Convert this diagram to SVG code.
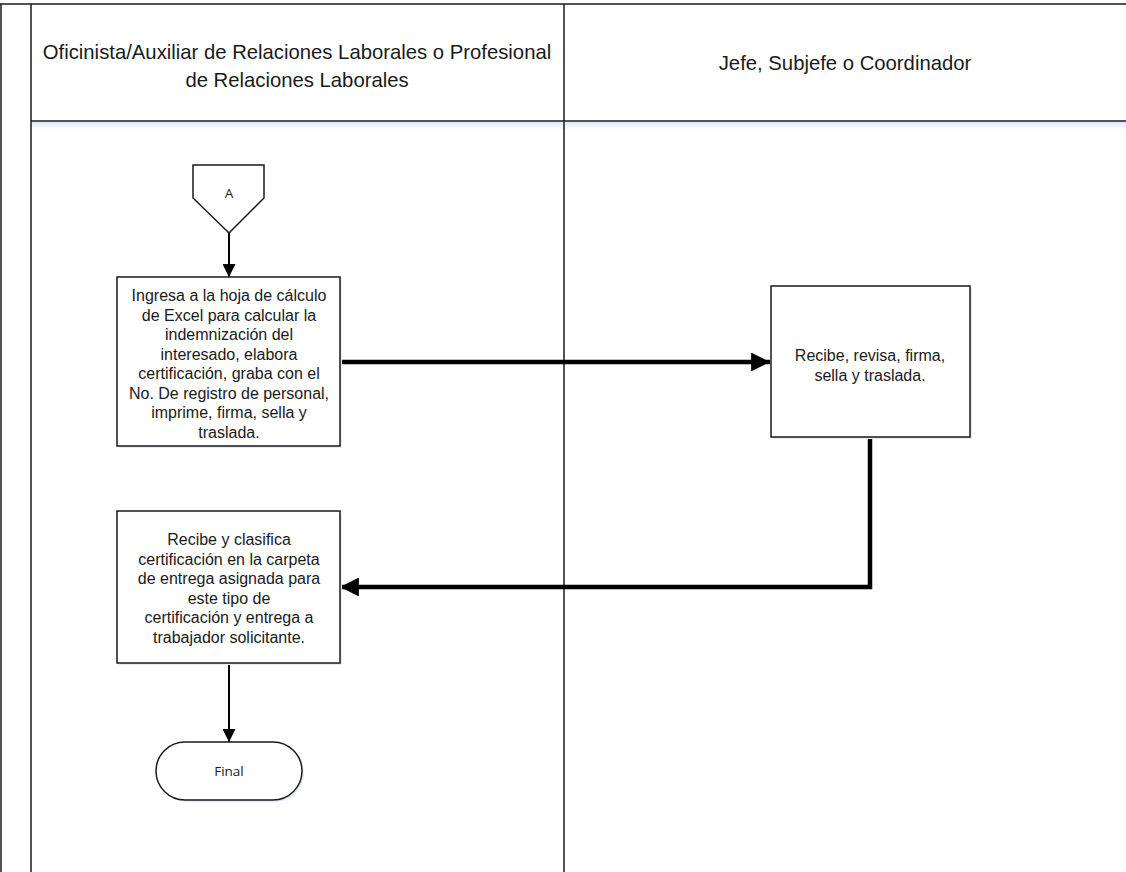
<svg xmlns="http://www.w3.org/2000/svg" width="1126" height="872" viewBox="0 0 1126 872">
<style>
.lane{fill:none;stroke:#1a1a1a;stroke-width:1.5}
.box{fill:#ffffff;stroke:#1a1a1a;stroke-width:1.5}
.shadow{fill:#e3ebf6}
.hdr{font-family:"Liberation Sans",Arial,sans-serif;font-size:20.3px;fill:#1a1a1a;text-anchor:middle}
.txt{font-family:"Liberation Sans",Arial,sans-serif;font-size:16px;fill:#1a1a1a;text-anchor:middle}
.sm{font-family:"Open Sans","Liberation Sans",sans-serif;font-size:13.5px;fill:#1a1a1a;text-anchor:middle}
.thin{fill:none;stroke:#000;stroke-width:2}
.thick{fill:none;stroke:#000;stroke-width:4.5}
</style>
<defs>
<linearGradient id="hs" x1="0" y1="0" x2="0" y2="1"><stop offset="0" stop-color="#dde7f4"/><stop offset="1" stop-color="#ffffff"/></linearGradient>
<marker id="ahs" viewBox="0 0 10 10" refX="10" refY="5" markerWidth="13" markerHeight="13" markerUnits="userSpaceOnUse" orient="auto"><path d="M0,0 L10,5 L0,10 Z" fill="#000"/></marker>
<marker id="ahb" viewBox="0 0 10 10" refX="10" refY="5" markerWidth="4.2" markerHeight="4.2" markerUnits="strokeWidth" orient="auto"><path d="M0,0 L10,5 L0,10 Z" fill="#000"/></marker>
</defs>
<rect width="1126" height="872" fill="#ffffff"/>
<g id="pool">
<rect x="31" y="122" width="1095" height="8" fill="url(#hs)"/>
<line class="lane" x1="0" y1="4" x2="1126" y2="4"/>
<line class="lane" x1="1" y1="4" x2="1" y2="872"/>
<line class="lane" x1="31" y1="4" x2="31" y2="872"/>
<line class="lane" x1="31" y1="121" x2="1126" y2="121"/>
<line class="lane" x1="564" y1="4" x2="564" y2="872"/>
<text class="hdr" x="297" y="59">Oficinista/Auxiliar de Relaciones Laborales o Profesional</text>
<text class="hdr" x="297" y="87">de Relaciones Laborales</text>
<text class="hdr" x="845" y="70">Jefe, Subjefe o Coordinador</text>
</g>
<g id="connectors">
<line class="thin" x1="229" y1="233" x2="229" y2="277" marker-end="url(#ahs)"/>
<line class="thick" x1="340" y1="362" x2="770" y2="362" marker-end="url(#ahb)"/>
<polyline class="thick" points="870,437 870,587 340,587" marker-end="url(#ahb)"/>
<line class="thin" x1="229" y1="663" x2="229" y2="742" marker-end="url(#ahs)"/>
</g>
<g id="nodeA">
<polygon points="193,165 264,165 264,198 229,233 193,198" class="box"/>
<text class="sm" x="229" y="198">A</text>
</g>
<g id="node1">
<rect x="119" y="279" width="223" height="169" class="shadow"/>
<rect x="117" y="277" width="223" height="169" class="box"/>
<text class="txt"><tspan x="229" y="301">Ingresa a la hoja de cálculo</tspan><tspan x="229" y="320.5">de Excel para calcular la</tspan><tspan x="229" y="340">indemnización del</tspan><tspan x="229" y="359.5">interesado, elabora</tspan><tspan x="229" y="379">certificación, graba con el</tspan><tspan x="229" y="398.5">No. De registro de personal,</tspan><tspan x="229" y="418">imprime, firma, sella y</tspan><tspan x="229" y="437.5">traslada.</tspan></text>
</g>
<g id="node2">
<rect x="773" y="288" width="199" height="151" class="shadow"/>
<rect x="771" y="286" width="199" height="151" class="box"/>
<text class="txt"><tspan x="870" y="361">Recibe, revisa, firma,</tspan><tspan x="870" y="380.5">sella y traslada.</tspan></text>
</g>
<g id="node3">
<rect x="119" y="513" width="223" height="152" class="shadow"/>
<rect x="117" y="511" width="223" height="152" class="box"/>
<text class="txt"><tspan x="229" y="545">Recibe y clasifica</tspan><tspan x="229" y="564.5">certificación en la carpeta</tspan><tspan x="229" y="584">de entrega asignada para</tspan><tspan x="229" y="603.5">este tipo de</tspan><tspan x="229" y="623">certificación y entrega a</tspan><tspan x="229" y="642.5">trabajador solicitante.</tspan></text>
</g>
<g id="final">
<rect x="158" y="744" width="146" height="58" rx="29" class="shadow"/>
<rect x="156" y="742" width="146" height="58" rx="29" class="box"/>
<text class="sm" x="229" y="776">Final</text>
</g>
</svg>
